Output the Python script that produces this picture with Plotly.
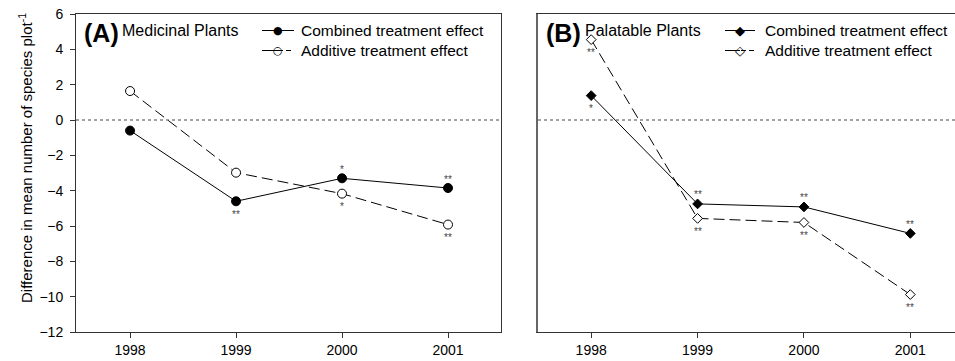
import plotly.graph_objects as go

years = [1998, 1999, 2000, 2001]

# Panel A: Medicinal plants
med_combined = [-0.6, -4.6, -3.3, -3.85]
med_additive = [1.64, -2.98, -4.17, -5.92]
med_combined_sig = ["", "**", "*", "**"]
med_combined_pos = ["", "below", "above", "above"]
med_additive_sig = ["", "", "*", "**"]
med_additive_pos = ["", "", "below", "below"]

# Panel B: Palatable plants
pal_combined = [1.38, -4.75, -4.92, -6.42]
pal_additive = [4.55, -5.57, -5.8, -9.88]
pal_combined_sig = ["*", "**", "**", "**"]
pal_combined_pos = ["below", "above", "above", "above"]
pal_additive_sig = ["**", "**", "**", "**"]
pal_additive_pos = ["below", "below", "below", "below"]

y_ticks = list(range(-12, 7, 2))
series_names = ["Combined treatment effect", "Additive treatment effect"]
panel_tags = ["(A)", "(B)"]
panel_titles = ["Medicinal Plants", "Palatable Plants"]

W, H = 955, 361
ML, MR, MT, MB = 76, 0, 14, 29
PW = W - ML - MR
PH = H - MT - MB


def px_x(p):
    return (p - ML) / PW


def px_y(p):
    return (H - MB - p) / PH


FONT = "Liberation Sans, Arial, sans-serif"
AXC = "#333333"
DASH = "11px,5px"

fig = go.Figure()

fig.add_trace(go.Scatter(x=years, y=med_combined, mode="lines+markers", name=series_names[0],
                         line=dict(color="black", width=1),
                         marker=dict(symbol="circle", size=9, color="black", line=dict(color="black", width=1)),
                         xaxis="x", yaxis="y", showlegend=False))
fig.add_trace(go.Scatter(x=years, y=med_additive, mode="lines+markers", name=series_names[1],
                         line=dict(color="black", width=1, dash=DASH),
                         marker=dict(symbol="circle", size=9, color="white", line=dict(color="black", width=1)),
                         xaxis="x", yaxis="y", showlegend=False))
fig.add_trace(go.Scatter(x=years, y=pal_combined, mode="lines+markers", name=series_names[0],
                         line=dict(color="black", width=1),
                         marker=dict(symbol="diamond", size=7.5, color="black", line=dict(color="black", width=1)),
                         xaxis="x2", yaxis="y2", showlegend=False))
fig.add_trace(go.Scatter(x=years, y=pal_additive, mode="lines+markers", name=series_names[1],
                         line=dict(color="black", width=1, dash=DASH),
                         marker=dict(symbol="diamond", size=7.5, color="white", line=dict(color="black", width=1)),
                         xaxis="x2", yaxis="y2", showlegend=False))

annotations = []
shapes = []


def add_sig(xs, ys, sigs, poss, xr, yr):
    for xv, yv, s, p in zip(xs, ys, sigs, poss):
        if not s:
            continue
        annotations.append(dict(x=xv, y=yv, xref=xr, yref=yr, text=s, showarrow=False,
                                font=dict(family=FONT, size=10, color="#444444"),
                                yshift=(9 if p == "above" else -13), xanchor="center", yanchor="middle"))


add_sig(years, med_combined, med_combined_sig, med_combined_pos, "x", "y")
add_sig(years, med_additive, med_additive_sig, med_additive_pos, "x", "y")
add_sig(years, pal_combined, pal_combined_sig, pal_combined_pos, "x2", "y2")
add_sig(years, pal_additive, pal_additive_sig, pal_additive_pos, "x2", "y2")

# Panel labels
for tag, title, tx, ttx in zip(panel_tags, panel_titles, [82, 544], [120, 583]):
    annotations.append(dict(xref="paper", yref="paper", x=px_x(tx), y=px_y(33), xanchor="left",
                            yanchor="middle", showarrow=False, text="<b>" + tag + "</b>",
                            font=dict(family=FONT, size=25, color="black")))
    annotations.append(dict(xref="paper", yref="paper", x=px_x(ttx), y=px_y(31), xanchor="left",
                            yanchor="middle", showarrow=False, text=title,
                            font=dict(family=FONT, size=16, color="black")))

# Y axis title
annotations.append(dict(xref="paper", yref="paper", x=px_x(25), y=px_y(158), xanchor="center", yanchor="middle",
                        showarrow=False, textangle=-90,
                        text="Difference in mean number of species plot<sup>-1</sup>",
                        font=dict(family=FONT, size=15, color="black")))

# Manual legends (line sample + glyph + label)
legend_specs = [
    # (line x0, line x1, text x, row y, dashed, glyph, glyph size)
    (262, 294, 299, 30.5, False, "●", 11),
    (262, 294, 299, 50.5, True, "○", 11),
    (725, 755, 763, 30.5, False, "◆", 13),
    (725, 755, 763, 50.5, True, "◇", 13),
]
for i, (lx0, lx1, tx, ry, dashed, glyph, gsize) in enumerate(legend_specs):
    shapes.append(dict(type="line", xref="paper", yref="paper", x0=px_x(lx0), x1=px_x(lx1),
                       y0=px_y(ry), y1=px_y(ry),
                       line=dict(color="black", width=1, dash=("5px,3px" if dashed else "solid"))))
    if dashed:
        shapes.append(dict(type="line", xref="paper", yref="paper", x0=px_x(lx0), x1=px_x((lx0 + lx1) / 2),
                           y0=px_y(ry), y1=px_y(ry), line=dict(color="black", width=1)))
    annotations.append(dict(xref="paper", yref="paper", x=px_x((lx0 + lx1) / 2), y=px_y(ry),
                            xanchor="center", yanchor="middle", showarrow=False, text=glyph,
                            font=dict(family="DejaVu Sans", size=gsize, color="black")))
    annotations.append(dict(xref="paper", yref="paper", x=px_x(tx), y=px_y(ry), xanchor="left",
                            yanchor="middle", showarrow=False, text=series_names[i % 2],
                            font=dict(family=FONT, size=15.5, color="black")))

dom_a = [0, px_x(501)]
dom_b = [px_x(538), 1]

shapes += [
    dict(type="line", xref="x domain", yref="y", x0=0, x1=1, y0=0, y1=0,
         line=dict(color="#444444", width=1, dash="dot")),
    dict(type="line", xref="x2 domain", yref="y2", x0=0, x1=1, y0=0, y1=0,
         line=dict(color="#444444", width=1, dash="dot")),
]

tickfont = dict(family=FONT, size=14, color="black")

fig.update_layout(
    width=W, height=H,
    margin=dict(l=ML, r=MR, t=MT, b=MB),
    paper_bgcolor="white", plot_bgcolor="white",
    showlegend=False,
    xaxis=dict(domain=dom_a, range=[1997.49, 2001.5], tickvals=years, ticks="outside", ticklen=5,
               tickcolor=AXC, showline=True, linecolor=AXC, linewidth=1, mirror=True, showgrid=False,
               zeroline=False, tickfont=tickfont, anchor="y"),
    yaxis=dict(domain=[0, 1], range=[-12, 6], tickvals=y_ticks, ticks="outside", ticklen=5,
               tickcolor=AXC, showline=True, linecolor=AXC, linewidth=1, mirror=True, showgrid=False,
               zeroline=False, tickfont=tickfont, anchor="x", ticklabelstandoff=4),
    xaxis2=dict(domain=dom_b, range=[1997.5, 2001.42], tickvals=years, ticks="outside", ticklen=5,
                tickcolor=AXC, showline=True, linecolor=AXC, linewidth=1, mirror=True, showgrid=False,
                zeroline=False, tickfont=tickfont, anchor="y2"),
    yaxis2=dict(domain=[0, 1], range=[-12, 6], tickvals=y_ticks, showticklabels=False, ticks="",
                showline=True, linecolor="#666666", linewidth=1.5, showgrid=False, zeroline=False,
                anchor="x2"),
    annotations=annotations,
    shapes=shapes,
)

fig.write_html("out.html")
